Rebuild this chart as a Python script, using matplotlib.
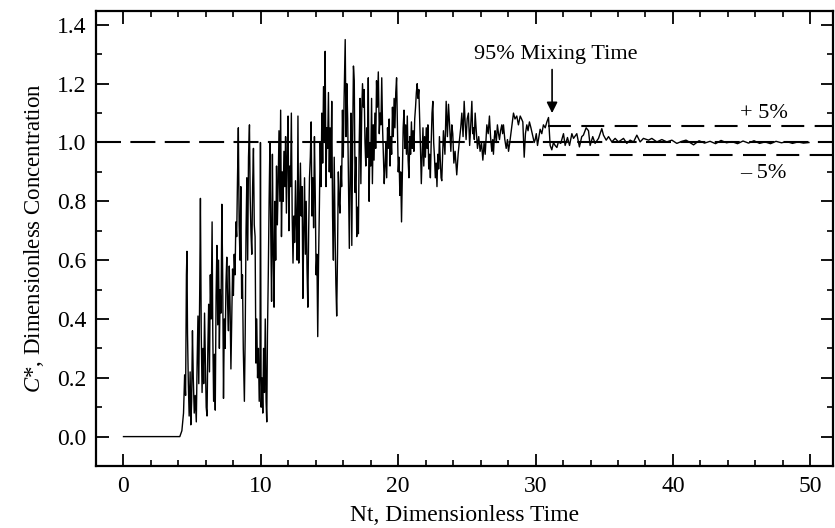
import numpy as np
import matplotlib
matplotlib.use('Agg')
import matplotlib.pyplot as plt
from matplotlib.ticker import MultipleLocator

plt.rcParams['font.family'] = 'Liberation Serif'
plt.rcParams['mathtext.fontset'] = 'custom'
plt.rcParams['mathtext.it'] = 'Liberation Serif:italic'
plt.rcParams['mathtext.rm'] = 'Liberation Serif'

# baseline before the tracer arrives
base_t = [0.0, 4.10]
base_c = [0.0, 0.0]

# arrival and strong fluctuations
rise_t = [4.25, 4.37, 4.45, 4.52, 4.58, 4.62, 4.66, 4.72, 4.78, 4.85, 4.90, 4.96,
          5.02, 5.08, 5.15, 5.22, 5.30, 5.36, 5.42, 5.48, 5.55, 5.60, 5.66, 5.72,
          5.78, 5.84, 5.90, 5.96, 6.02, 6.08, 6.14, 6.20, 6.26, 6.32, 6.38, 6.45,
          6.50, 6.56, 6.62, 6.68, 6.74, 6.80, 6.86, 6.92, 6.98, 7.04, 7.10, 7.16,
          7.22, 7.28, 7.34, 7.40, 7.46, 7.52, 7.58, 7.64, 7.70, 7.76, 7.82, 7.88,
          7.94, 8.00, 8.06, 8.12, 8.18, 8.24, 8.30, 8.36, 8.42, 8.48, 8.54, 8.60,
          8.66, 8.72, 8.80, 8.86, 8.92, 8.98, 9.04, 9.10, 9.17, 9.22, 9.28, 9.34,
          9.40, 9.46, 9.52, 9.58, 9.64, 9.70, 9.76, 9.82, 9.88, 9.94, 9.97, 10.02,
          10.08, 10.14, 10.20, 10.26, 10.32, 10.38, 10.43, 10.48, 10.54, 10.60, 10.66]
rise_c = [0.02, 0.08, 0.21, 0.14, 0.55, 0.63, 0.35, 0.18, 0.07, 0.22, 0.04, 0.12,
          0.36, 0.20, 0.08, 0.14, 0.05, 0.25, 0.41, 0.18, 0.50, 0.81, 0.35, 0.15,
          0.30, 0.18, 0.42, 0.25, 0.10, 0.07, 0.30, 0.45, 0.22, 0.55, 0.40, 0.73,
          0.35, 0.12, 0.28, 0.09, 0.48, 0.65, 0.38, 0.60, 0.30, 0.50, 0.42, 0.79,
          0.55, 0.13, 0.40, 0.30, 0.52, 0.61, 0.45, 0.36, 0.58, 0.44, 0.23, 0.40,
          0.57, 0.48, 0.62, 0.55, 0.73, 0.68, 0.88, 1.05, 0.72, 0.60, 0.85, 0.47,
          0.55, 0.30, 0.12, 0.35, 0.70, 0.88, 0.60, 0.95, 1.06, 0.82, 0.69, 0.62,
          0.85, 0.98, 0.72, 0.68, 0.25, 0.40, 0.20, 0.30, 0.12, 0.25, 1.00, 0.10,
          0.20, 0.08, 0.30, 0.15, 0.40, 0.12, 0.05, 0.35, 0.55, 0.80, 1.00]

mid_t = [10.72, 10.78, 10.84, 10.90, 10.96, 11.02, 11.08, 11.14, 11.20, 11.26, 11.32, 11.38,
         11.44, 11.50, 11.56, 11.62, 11.68, 11.74, 11.80, 11.86, 11.92, 11.98, 12.04, 12.10,
         12.16, 12.22, 12.28, 12.34, 12.40, 12.46, 12.52, 12.58, 12.64, 12.70, 12.76, 12.82,
         12.88, 12.94, 13.00, 13.06, 13.12, 13.18, 13.24, 13.30, 13.36, 13.42, 13.48, 13.54,
         13.60, 13.66, 13.72, 13.78, 13.84, 13.90, 13.96, 14.02, 14.08, 14.14, 14.20, 14.26,
         14.32, 14.38, 14.44, 14.50, 14.56, 14.62, 14.68, 14.74, 14.80, 14.86, 14.92, 14.98,
         15.04, 15.10, 15.16, 15.22, 15.28, 15.34, 15.40, 15.46, 15.52, 15.58, 15.64, 15.70,
         15.76, 15.82, 15.88, 15.94, 16.00, 16.06, 16.14, 16.20, 16.26, 16.32, 16.38, 16.44,
         16.50, 16.56, 16.62, 16.68, 16.74, 16.80, 16.86, 16.92, 16.98, 17.04, 17.10, 17.16,
         17.22, 17.28, 17.34, 17.40, 17.46, 17.52, 17.58, 17.64, 17.70, 17.76, 17.82, 17.88,
         17.94, 18.00, 18.06, 18.12, 18.18, 18.24, 18.30, 18.36, 18.42, 18.48, 18.55, 18.62,
         18.68, 18.74, 18.80, 18.86, 18.92, 18.98, 19.04, 19.10, 19.16, 19.22, 19.28, 19.34,
         19.40, 19.46, 19.52, 19.58, 19.64, 19.70, 19.76, 19.82, 19.88, 19.94, 20.00, 20.06,
         20.12, 20.18, 20.24, 20.30, 20.36, 20.42, 20.48, 20.54, 20.60, 20.66, 20.72, 20.78,
         20.84, 20.90, 20.96, 21.02, 21.08, 21.14, 21.20, 21.26, 21.32, 21.38, 21.44, 21.50,
         21.56, 21.62, 21.68, 21.74, 21.80, 21.86, 21.92, 21.98, 22.04, 22.10, 22.16, 22.22,
         22.28, 22.34, 22.40, 22.46, 22.52, 22.58, 22.64, 22.70, 22.76, 22.82, 22.88, 22.94,
         23.00, 23.06, 23.12]
mid_c = [0.70, 0.46, 0.96, 0.62, 0.44, 0.80, 0.60, 0.92, 0.72, 0.86, 1.04, 0.80,
         1.11, 0.68, 0.90, 0.80, 0.97, 0.85, 1.02, 0.76, 0.96, 1.09, 0.70, 0.92,
         0.85, 1.10, 0.75, 0.59, 0.75, 0.66, 0.87, 0.72, 0.60, 1.09, 0.59, 0.80,
         0.93, 0.75, 0.85, 0.47, 0.70, 0.88, 0.62, 0.80, 0.57, 0.44, 0.70, 0.88,
         0.95, 1.07, 0.75, 0.88, 0.71, 1.02, 0.82, 0.55, 0.62, 0.34, 0.60, 0.78,
         1.00, 0.85, 1.10, 0.93, 1.19, 1.00, 1.31, 0.85, 1.05, 0.98, 1.17, 0.90,
         1.05, 0.88, 1.14, 0.75, 0.60, 0.95, 0.70, 0.52, 0.41, 0.62, 0.90, 0.80,
         0.76, 0.92, 0.85, 1.11, 0.95, 1.15, 1.35, 1.02, 1.20, 1.08, 0.85, 0.64,
         0.90, 1.10, 0.65, 1.00, 1.26, 1.21, 0.83, 0.95, 0.68, 0.78, 0.69, 1.00,
         1.15, 0.86, 1.10, 1.20, 1.12, 1.18, 1.00, 0.92, 1.05, 0.95, 1.22, 0.80,
         1.00, 0.92, 1.15, 0.86, 1.06, 0.94, 1.10, 0.98, 1.21, 1.12, 1.24, 1.03,
         1.10, 1.06, 1.22, 1.05, 0.95, 0.86, 0.92, 1.00, 0.88, 1.05, 0.98, 1.08,
         0.92, 1.02, 0.96, 1.12, 1.02, 1.15, 1.05, 1.17, 1.22, 1.05, 0.90, 0.95,
         0.82, 0.90, 0.73, 0.88, 1.05, 1.11, 0.98, 1.06, 0.96, 1.09, 0.94, 0.88,
         1.02, 0.96, 1.07, 0.98, 1.04, 0.97, 1.08, 1.12, 1.17, 1.20, 1.15, 1.18,
         1.08, 0.98, 0.86, 0.96, 1.05, 0.92, 1.02, 0.95, 1.05, 0.98, 1.06, 0.91,
         0.96, 0.88, 1.00, 1.10, 1.14, 1.00, 0.95, 0.88, 0.93, 0.85, 0.96, 0.91,
         1.02, 0.94, 0.88]

late_t = [23.17, 23.29, 23.40, 23.49, 23.58, 23.66, 23.75, 23.83, 23.90, 23.97, 24.05, 24.14,
          24.26, 24.36, 24.46, 24.55, 24.63, 24.72, 24.80, 24.88, 24.94, 25.02, 25.11, 25.20,
          25.28, 25.36, 25.42, 25.48, 25.54, 25.60, 25.68, 25.77, 25.86, 25.96, 26.06, 26.16,
          26.25, 26.33, 26.40, 26.45, 26.55, 26.64, 26.72, 26.81, 26.88, 26.93, 27.00, 27.05,
          27.14, 27.22, 27.30, 27.37, 27.45, 27.54, 27.60, 27.66, 27.76, 27.86, 27.95, 28.03,
          28.12, 28.20, 28.30, 28.39, 28.50, 28.63, 28.75, 28.88, 28.98, 29.07, 29.17, 29.26,
          29.36, 29.45, 29.55, 29.66, 29.80, 29.90, 29.97, 30.05, 30.14, 30.24, 30.33, 30.45,
          30.57, 30.70, 30.82, 30.94, 31.06, 31.18]
late_c = [0.87, 1.04, 0.96, 1.14, 1.02, 1.13, 1.05, 0.97, 1.06, 1.03, 0.93, 0.97,
          0.89, 0.96, 1.01, 1.05, 1.10, 1.02, 1.14, 1.06, 1.01, 1.08, 1.10, 0.99,
          1.06, 1.14, 1.03, 1.05, 1.01, 1.10, 1.04, 0.98, 1.02, 0.97, 1.00, 0.94,
          1.00, 0.96, 1.02, 1.06, 1.03, 1.09, 1.02, 0.97, 1.01, 0.96, 1.02, 1.04,
          1.00, 1.06, 1.03, 1.01, 1.04, 1.06, 1.03, 1.06, 1.01, 0.98, 1.01, 0.97,
          1.00, 1.03, 1.07, 1.10, 1.08, 1.09, 1.06, 1.09, 1.08, 1.07, 0.95, 1.03,
          1.06, 1.04, 1.07, 1.05, 1.02, 1.00, 1.01, 1.03, 0.99, 1.02, 1.045, 1.03,
          1.06, 1.05, 1.07, 1.085, 0.99, 0.975]

# after the 95 % mixing time: small wiggle around 1
tail_t = [31.30, 31.42, 31.55, 31.66, 31.83, 32.03, 32.15, 32.32, 32.47, 32.64, 32.76, 33.00,
          33.19, 33.36, 33.48, 33.68, 33.85, 33.97, 34.16, 34.33, 34.58, 34.82, 34.94, 35.14,
          35.31, 35.55, 35.79, 36.03, 36.40, 36.64, 36.88, 37.13, 37.37, 37.61, 37.85, 38.22,
          38.46, 38.83, 39.19, 39.55, 39.92, 40.28, 40.65, 40.95, 41.10, 41.50, 41.90, 42.30,
          42.70, 43.10, 43.50, 43.90, 44.30, 44.70, 45.10, 45.50, 45.90, 46.30, 46.70, 47.10,
          47.50, 47.90, 48.30, 48.70, 49.10, 49.50, 49.90]
tail_c = [1.000, 0.990, 0.983, 1.002, 0.997, 1.030, 0.990, 1.017, 0.990, 1.030, 1.014, 1.030,
          0.985, 1.020, 1.025, 1.050, 1.040, 0.990, 1.020, 0.997, 1.014, 1.047, 1.025, 1.008,
          1.020, 1.002, 1.014, 1.002, 1.014, 0.997, 1.008, 1.002, 1.025, 1.002, 1.014, 1.008,
          1.014, 1.002, 1.010, 1.002, 1.008, 0.997, 1.004, 1.008, 1.004, 0.992, 1.006, 0.998,
          1.004, 0.996, 1.007, 0.999, 1.003, 0.996, 1.005, 0.998, 1.006, 0.997, 1.002, 0.996,
          1.004, 0.999, 1.003, 0.997, 1.002, 0.998, 1.000]

x_ticks = [0, 10, 20, 30, 40, 50]
y_ticks = [0.0, 0.2, 0.4, 0.6, 0.8, 1.0, 1.2, 1.4]
band_hi = 1.057
band_lo = 0.956

t = np.array(base_t + rise_t + mid_t + late_t + tail_t)
c = np.array(base_c + rise_c + mid_c + late_c + tail_c)

fig = plt.figure(figsize=(8.35, 5.28), dpi=100)
ax = fig.add_axes([0.115, 0.1174, 0.8826, 0.8617])

ax.plot(t, c, color='black', lw=1.0)
ax.axhline(1.0, color='black', lw=1.5, ls=(0, (12, 4.5)))
ax.plot([30.9, 51.65], [band_hi, band_hi], color='black', lw=1.5, ls=(0, (11, 5)))
ax.plot([30.55, 51.65], [band_lo, band_lo], color='black', lw=1.5, ls=(0, (11, 5)))

ax.annotate('', xy=(31.2, 1.10), xytext=(31.2, 1.248),
            arrowprops=dict(arrowstyle='-|>', color='black', lw=1.2,
                            mutation_scale=16, shrinkA=0, shrinkB=0))
ax.text(31.5, 1.30, '95% Mixing Time', ha='center', va='center', fontsize=16)
ax.text(46.6, 1.10, '+ 5%', ha='center', va='center', fontsize=16)
ax.text(46.6, 0.895, '\u2013 5%', ha='center', va='center', fontsize=16)

ax.set_xlim(-2, 51.65)
ax.set_ylim(-0.1, 1.447)
ax.set_xticks(x_ticks)
ax.set_yticks(y_ticks)
ax.set_yticklabels(['%.1f' % v for v in y_ticks])
ax.xaxis.set_minor_locator(MultipleLocator(2))
ax.yaxis.set_minor_locator(MultipleLocator(0.1))
ax.tick_params(which='both', direction='in', top=True, right=True, labelsize=17)
ax.tick_params(which='major', length=9, width=1.3, pad=7)
ax.tick_params(which='minor', length=4.5, width=1.2)
for sp in ax.spines.values():
    sp.set_linewidth(1.6)

ax.set_xlabel('Nt, Dimensionless Time', fontsize=17, labelpad=6)
ax.set_ylabel(r'$\mathit{C}$*, Dimensionless Concentration', fontsize=16.5, labelpad=8)

fig.savefig('out.png', dpi=100)
